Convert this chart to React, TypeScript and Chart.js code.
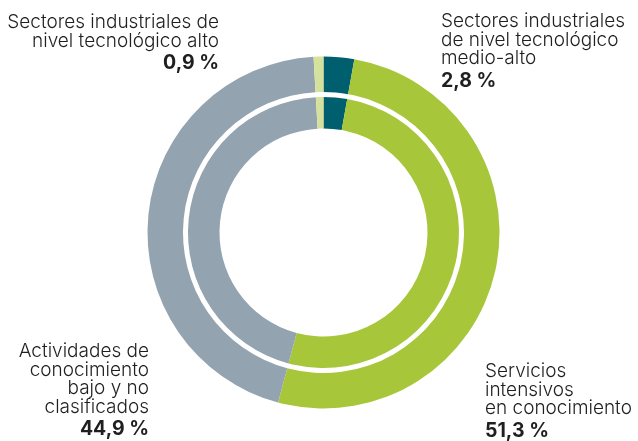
import React, { useEffect, useRef } from "react";
import { Chart, registerables } from "chart.js";

Chart.register(...registerables);

const categories = [
  "Sectores industriales de nivel tecnológico medio-alto",
  "Servicios intensivos en conocimiento",
  "Actividades de conocimiento bajo y no clasificados",
  "Sectores industriales de nivel tecnológico alto",
];
const outerValues = [2.8, 51.3, 44.9, 0.9];
const innerValues = [2.8, 51.3, 44.9, 0.9];
const colors = ["#005f6e", "#a8c63a", "#93a3b0", "#d5e29c"];

const labelLines = [
  ["Sectores industriales", "de nivel tecnológico", "medio-alto"],
  ["Servicios", "intensivos", "en conocimiento"],
  ["Actividades de", "conocimiento", "bajo y no", "clasificados"],
  ["Sectores industriales de", "nivel tecnológico alto"],
];
const valueLabels = ["2,8 %", "51,3 %", "44,9 %", "0,9 %"];

const FONT = "Inter";

const labelsPlugin = {
  id: "cornerLabels",
  afterDraw(chart: any) {
    const ctx = chart.ctx as CanvasRenderingContext2D;
    const layout: [number, CanvasTextAlign, number][] = [
      [441, "left", 27],
      [485, "left", 377],
      [149, "right", 357],
      [219, "right", 28],
    ];
    ctx.save();
    ctx.fillStyle = "#1f1f1f";
    ctx.textBaseline = "alphabetic";
    labelLines.forEach((lines, i) => {
      const [x, align, y0] = layout[i];
      ctx.textAlign = align;
      ctx.font = `300 19px ${FONT}`;
      let y = y0;
      lines.forEach((ln, j) => {
        if (j > 0) y += 18.5;
        ctx.fillText(ln, x, y);
      });
      y += 22.5;
      ctx.font = `700 19.5px ${FONT}`;
      ctx.fillText(valueLabels[i], x, y);
    });
    ctx.restore();
  },
};

export default function App() {
  const ref = useRef<HTMLCanvasElement | null>(null);
  useEffect(() => {
    if (!ref.current) return;
    const chart = new Chart(ref.current, {
      type: "doughnut",
      data: {
        labels: categories,
        datasets: [
          { data: outerValues, backgroundColor: colors, borderWidth: 0, weight: 35.5 } as any,
          { data: [1], backgroundColor: "rgba(0,0,0,0)", borderWidth: 0, weight: 5 } as any,
          { data: innerValues, backgroundColor: colors, borderWidth: 0, weight: 31.5 } as any,
        ],
      },
      options: {
        animation: false,
        responsive: false,
        radius: 176,
        cutout: "59.1%",
        layout: { padding: { left: 9, right: 0, top: 24, bottom: 0 } },
        plugins: { legend: { display: false }, tooltip: { enabled: false } },
      } as any,
      plugins: [labelsPlugin],
    });
    return () => chart.destroy();
  }, []);
  return (
    <div style={{ position: "fixed", left: 0, top: 0, width: 638, height: 441, background: "#fff" }}>
      <canvas ref={ref} width={638} height={441} style={{ width: 638, height: 441 }} />
    </div>
  );
}
